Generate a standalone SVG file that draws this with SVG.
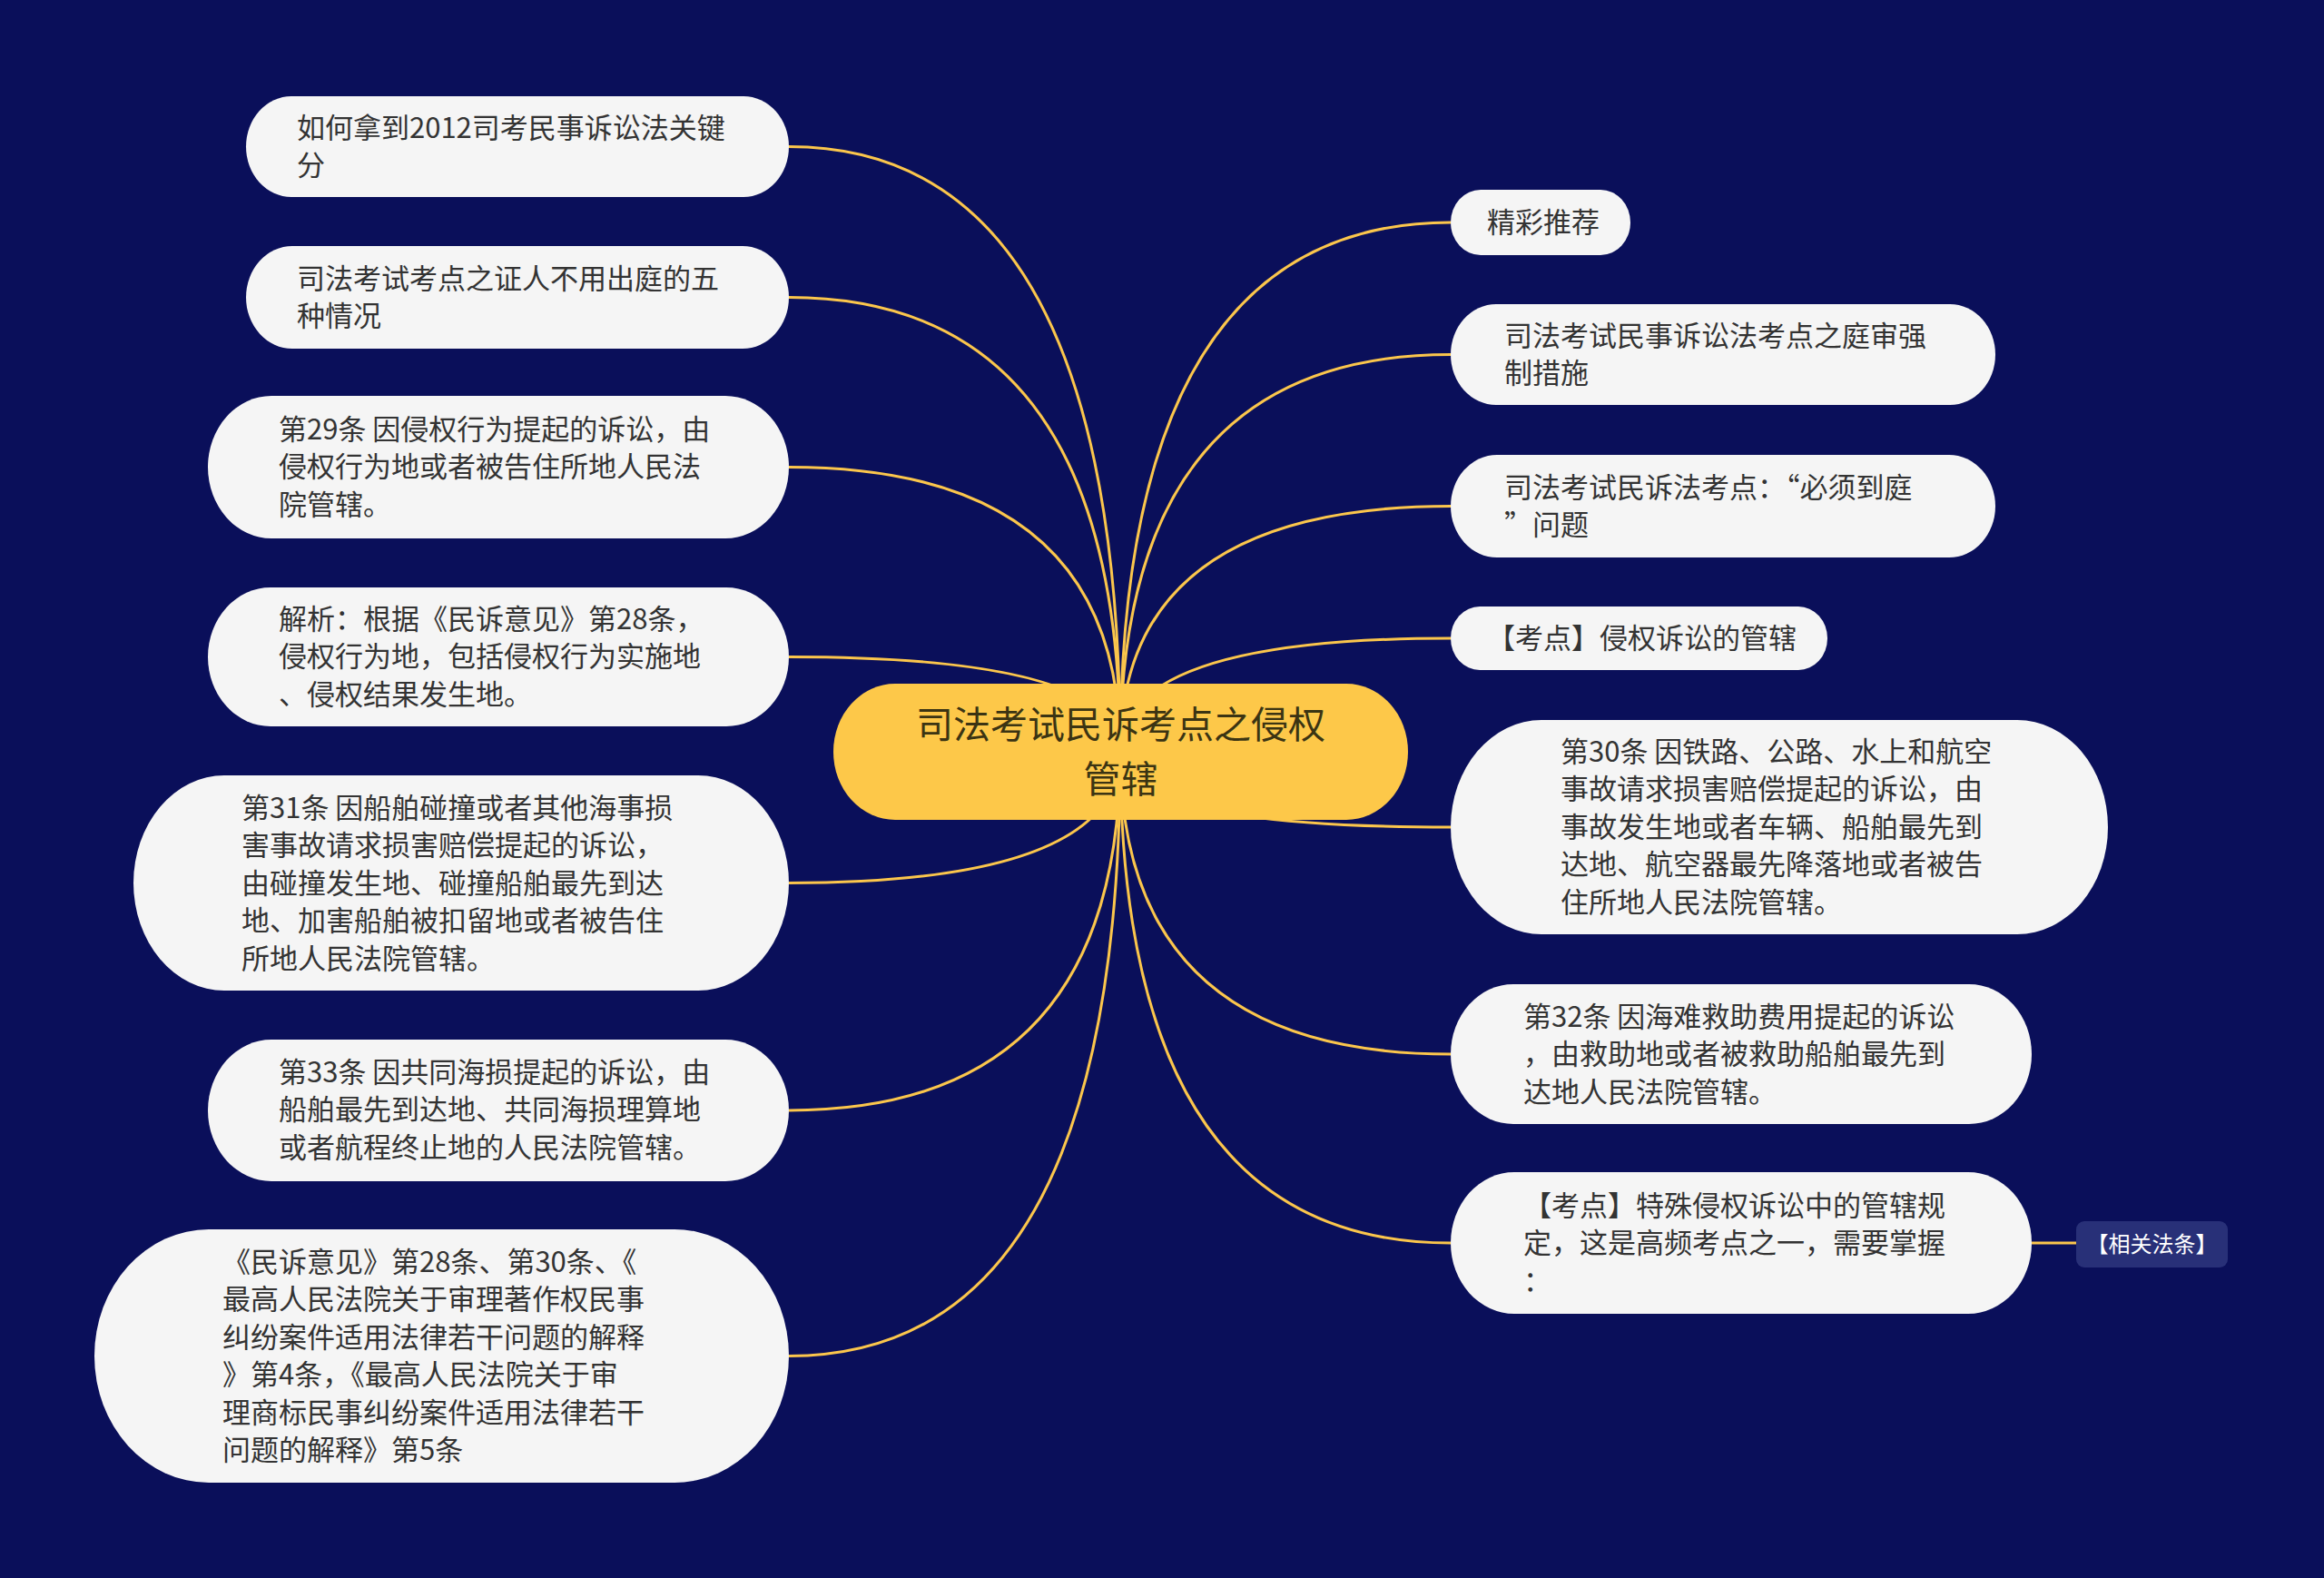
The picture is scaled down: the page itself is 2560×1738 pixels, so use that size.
<svg xmlns="http://www.w3.org/2000/svg" width="2560" height="1738" viewBox="0 0 2560 1738">
<style>
.bg{fill:#0a0f5a}
.node rect{fill:#f5f5f5}
.node text{font-family:"Noto Sans CJK SC","Noto Sans",sans-serif;font-size:31px;fill:#333333}
.root rect{fill:#fdc849}
.root text{font-family:"Noto Sans CJK SC","Noto Sans",sans-serif;font-size:41px;fill:#3b3413;text-anchor:middle}
.tag rect{fill:#283078}
.tag text{font-family:"Noto Sans CJK SC","Noto Sans",sans-serif;font-size:24px;fill:#ffffff;text-anchor:middle}
.links path{fill:none;stroke:#fbc64c;stroke-width:3}
</style>
<rect class="bg" x="0" y="0" width="2560" height="1738"/>
<g class="links" id="connectors">
<path d="M1234 828 Q1234 161.5 869 161.5"/>
<path d="M1234 828 Q1234 327.5 869 327.5"/>
<path d="M1234 828 Q1234 514.5 869 514.5"/>
<path d="M1234 828 Q1234 723.5 869 723.5"/>
<path d="M1234 828 Q1234 972.5 869 972.5"/>
<path d="M1234 828 Q1234 1223 869 1223"/>
<path d="M1234 828 Q1234 1493.5 869 1493.5"/>
<path d="M1234 828 Q1234 245 1598 245"/>
<path d="M1234 828 Q1234 390.5 1598 390.5"/>
<path d="M1234 828 Q1234 557.5 1598 557.5"/>
<path d="M1234 828 Q1234 703 1598 703"/>
<path d="M1234 828 Q1234 911 1598 911"/>
<path d="M1234 828 Q1234 1161 1598 1161"/>
<path d="M1234 828 Q1234 1369 1598 1369"/>
<path d="M2238 1369 L2287 1369"/>
</g>
<g class="root" id="root">
<rect x="918" y="753" width="633" height="150" rx="68" ry="75"/>
<text x="1234.5" y="813">司法考试民诉考点之侵权</text>
<text x="1234.5" y="873">管辖</text>
</g>
<g class="node" id="n-l1">
<rect x="271" y="106" width="598" height="111" rx="50" ry="55.5"/>
<text x="327" y="152">如何拿到2012司考民事诉讼法关键</text>
<text x="327" y="193">分</text>
</g>
<g class="node" id="n-l2">
<rect x="271" y="271" width="598" height="113" rx="51" ry="56.5"/>
<text x="327" y="318">司法考试考点之证人不用出庭的五</text>
<text x="327" y="359">种情况</text>
</g>
<g class="node" id="n-l3">
<rect x="229" y="436" width="640" height="157" rx="70" ry="78.5"/>
<text x="307" y="484">第29条 因侵权行为提起的诉讼，由</text>
<text x="307" y="525">侵权行为地或者被告住所地人民法</text>
<text x="307" y="567">院管辖。</text>
</g>
<g class="node" id="n-l4">
<rect x="229" y="647" width="640" height="153" rx="69" ry="76.5"/>
<text x="307" y="693">解析：根据《民诉意见》第28条，</text>
<text x="307" y="734">侵权行为地，包括侵权行为实施地</text>
<text x="307" y="776">、侵权结果发生地。</text>
</g>
<g class="node" id="n-l5">
<rect x="147" y="854" width="722" height="237" rx="100" ry="118.5"/>
<text x="266" y="901">第31条 因船舶碰撞或者其他海事损</text>
<text x="266" y="942">害事故请求损害赔偿提起的诉讼，</text>
<text x="266" y="984">由碰撞发生地、碰撞船舶最先到达</text>
<text x="266" y="1025">地、加害船舶被扣留地或者被告住</text>
<text x="266" y="1067">所地人民法院管辖。</text>
</g>
<g class="node" id="n-l6">
<rect x="229" y="1145" width="640" height="156" rx="70" ry="78"/>
<text x="307" y="1192">第33条 因共同海损提起的诉讼，由</text>
<text x="307" y="1233">船舶最先到达地、共同海损理算地</text>
<text x="307" y="1275">或者航程终止地的人民法院管辖。</text>
</g>
<g class="node" id="n-l7">
<rect x="104" y="1354" width="765" height="279" rx="126" ry="139.5"/>
<text x="245" y="1401">《民诉意见》第28条、第30条、《</text>
<text x="245" y="1442">最高人民法院关于审理著作权民事</text>
<text x="245" y="1484">纠纷案件适用法律若干问题的解释</text>
<text x="245" y="1525">》第4条，《最高人民法院关于审</text>
<text x="245" y="1567">理商标民事纠纷案件适用法律若干</text>
<text x="245" y="1608">问题的解释》第5条</text>
</g>
<g class="node" id="n-r1">
<rect x="1598" y="209" width="198" height="72" rx="33" ry="36"/>
<text x="1638" y="256">精彩推荐</text>
</g>
<g class="node" id="n-r2">
<rect x="1598" y="335" width="600" height="111" rx="50" ry="55.5"/>
<text x="1657" y="381">司法考试民事诉讼法考点之庭审强</text>
<text x="1657" y="422">制措施</text>
</g>
<g class="node" id="n-r3">
<rect x="1598" y="501" width="600" height="113" rx="51" ry="56.5"/>
<text x="1657" y="548">司法考试民诉法考点：“必须到庭</text>
<text x="1657" y="589">”问题</text>
</g>
<g class="node" id="n-r4">
<rect x="1598" y="668" width="415" height="70" rx="32" ry="35"/>
<text x="1638" y="714">【考点】侵权诉讼的管辖</text>
</g>
<g class="node" id="n-r5">
<rect x="1598" y="793" width="724" height="236" rx="100" ry="118"/>
<text x="1719" y="839">第30条 因铁路、公路、水上和航空</text>
<text x="1719" y="880">事故请求损害赔偿提起的诉讼，由</text>
<text x="1719" y="922">事故发生地或者车辆、船舶最先到</text>
<text x="1719" y="963">达地、航空器最先降落地或者被告</text>
<text x="1719" y="1005">住所地人民法院管辖。</text>
</g>
<g class="node" id="n-r6">
<rect x="1598" y="1084" width="640" height="154" rx="69" ry="77"/>
<text x="1678" y="1131">第32条 因海难救助费用提起的诉讼</text>
<text x="1678" y="1172">，由救助地或者被救助船舶最先到</text>
<text x="1678" y="1214">达地人民法院管辖。</text>
</g>
<g class="node" id="n-r7">
<rect x="1598" y="1291" width="640" height="156" rx="70" ry="78"/>
<text x="1678" y="1339">【考点】特殊侵权诉讼中的管辖规</text>
<text x="1678" y="1380">定，这是高频考点之一，需要掌握</text>
<text x="1678" y="1422">：</text>
</g>
<g class="tag" id="n-r8">
<rect x="2287" y="1345" width="167" height="51" rx="9" ry="9"/>
<text x="2370.5" y="1379">【相关法条】</text>
</g>
</svg>
